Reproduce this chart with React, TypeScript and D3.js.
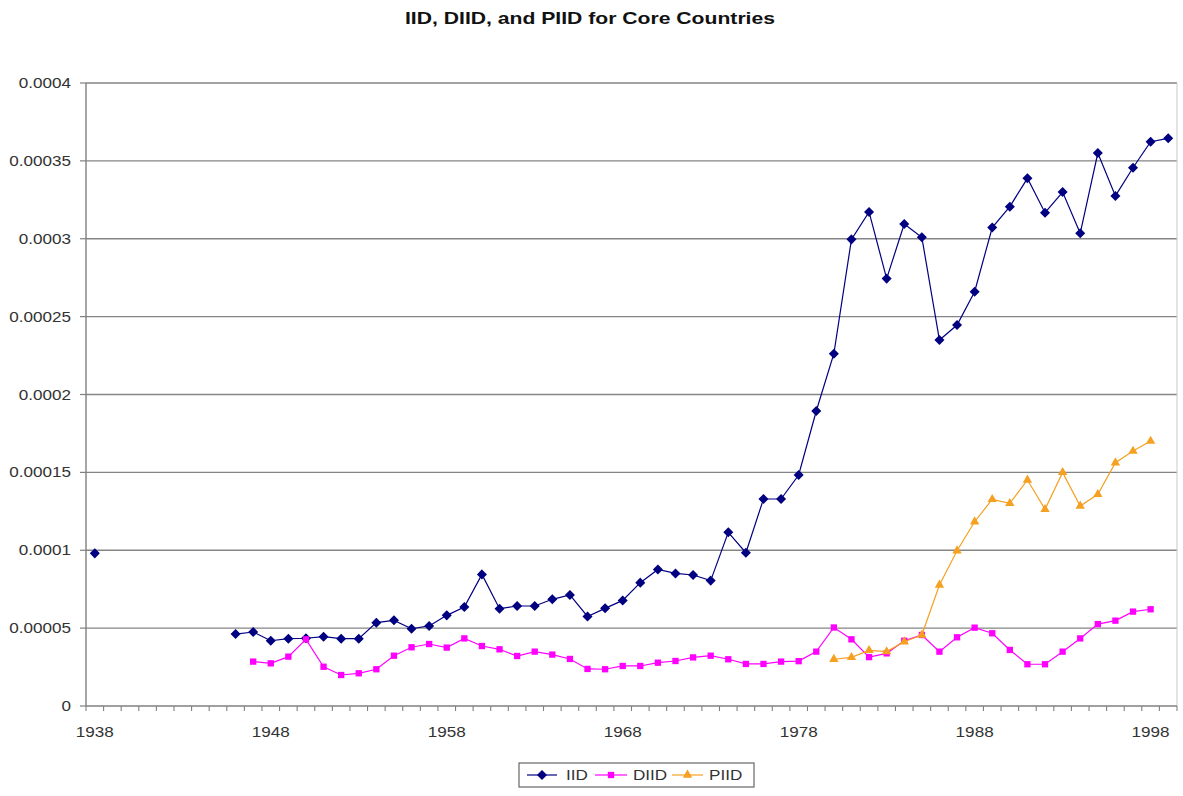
import React from "react";
import * as d3 from "d3";

const years: number[] = d3.range(1938, 2000);
const tickYears: number[] = [1938, 1948, 1958, 1968, 1978, 1988, 1998];
const yTicks: number[] = [0, 0.00005, 0.0001, 0.00015, 0.0002, 0.00025, 0.0003, 0.00035, 0.0004];
const yTickLabels: string[] = ["0", "0.00005", "0.0001", "0.00015", "0.0002", "0.00025", "0.0003", "0.00035", "0.0004"];

// values in units of 1e-5, keyed by year
const iidYears: number[] = [1938, 1946, 1947, 1948, 1949, 1950, 1951, 1952, 1953, 1954, 1955, 1956, 1957, 1958, 1959, 1960, 1961, 1962, 1963, 1964, 1965, 1966, 1967, 1968, 1969, 1970, 1971, 1972, 1973, 1974, 1975, 1976, 1977, 1978, 1979, 1980, 1981, 1982, 1983, 1984, 1985, 1986, 1987, 1988, 1989, 1990, 1991, 1992, 1993, 1994, 1995, 1996, 1997, 1998, 1999];
const iidValues: number[] = [9.8, 4.62, 4.75, 4.19, 4.32, 4.35, 4.45, 4.32, 4.32, 5.35, 5.5, 4.96, 5.14, 5.82, 6.36, 8.45, 6.25, 6.42, 6.42, 6.85, 7.13, 5.75, 6.27, 6.78, 7.92, 8.77, 8.51, 8.41, 8.05, 11.15, 9.84, 13.29, 13.29, 14.83, 18.94, 22.62, 29.96, 31.72, 27.44, 30.95, 30.09, 23.5, 24.46, 26.6, 30.72, 32.06, 33.88, 31.67, 33.0, 30.35, 35.5, 32.75, 34.56, 36.23, 36.45];

const diidYears: number[] = d3.range(1947, 1999);
const diidValues: number[] = [2.85, 2.74, 3.17, 4.28, 2.52, 1.99, 2.1, 2.36, 3.23, 3.77, 3.98, 3.75, 4.34, 3.85, 3.64, 3.21, 3.49, 3.3, 3.02, 2.38, 2.36, 2.57, 2.57, 2.78, 2.89, 3.12, 3.23, 3.0, 2.7, 2.7, 2.85, 2.88, 3.49, 5.04, 4.28, 3.14, 3.38, 4.19, 4.56, 3.49, 4.41, 5.03, 4.67, 3.6, 2.68, 2.68, 3.49, 4.34, 5.26, 5.48, 6.06, 6.21];

const piidYears: number[] = d3.range(1980, 1999);
const piidValues: number[] = [3.0, 3.12, 3.57, 3.49, 4.13, 4.56, 7.77, 9.97, 11.83, 13.27, 13.01, 14.51, 12.63, 15.0, 12.84, 13.59, 15.62, 16.37, 17.01];

const seriesNames: string[] = ["IID", "DIID", "PIID"];
const seriesColors: string[] = ["#000080", "#FF00FF", "#F5A020"];

const FONT = "'Liberation Sans', Arial, sans-serif";

type Pt = { year: number; v: number | null };

function toSeries(ys: number[], vs: number[]): Pt[] {
  const m = new Map<number, number>();
  ys.forEach((y, i) => m.set(y, vs[i] * 1e-5));
  return years.map((y) => ({ year: y, v: m.has(y) ? (m.get(y) as number) : null }));
}

export default function App() {
  const W = 1183;
  const H = 796;
  const left = 86;
  const right = 1177;
  const top = 83;
  const bottom = 706;

  const x = d3.scaleBand<number>().domain(years).range([left, right]).padding(0);
  const y = d3.scaleLinear().domain([0, 0.0004]).range([bottom, top]);
  const cx = (yr: number) => (x(yr) as number) + x.bandwidth() / 2;

  const data: Pt[][] = [toSeries(iidYears, iidValues), toSeries(diidYears, diidValues), toSeries(piidYears, piidValues)];
  const diamond = (d3 as any).symbolDiamond2 || d3.symbolDiamond;
  const symbols = [diamond, d3.symbolSquare, d3.symbolTriangle];
  const sizes = [40, 40, 38];

  const line = d3
    .line<Pt>()
    .defined((d) => d.v !== null)
    .x((d) => cx(d.year))
    .y((d) => y(d.v as number));

  const boundaries = years.map((yr) => x(yr) as number).concat([right]);

  const legendItems = [
    { lineX0: 527, lineX1: 557, textX: 566 },
    { lineX0: 595, lineX1: 627, textX: 633 },
    { lineX0: 672, lineX1: 703, textX: 709 },
  ];

  const stretch = 1.14;

  return (
    <svg
      width={W}
      height={H}
      style={{ position: "absolute", left: 0, top: 0, background: "#fff" }}
      fontFamily={FONT}
    >
      <rect x={0} y={0} width={W} height={H} fill="#fff" />
      <text x={590} y={24} textAnchor="middle" fontWeight="bold" fontSize={17} fill="#111" textLength={370} lengthAdjust="spacingAndGlyphs">
        IID, DIID, and PIID for Core Countries
      </text>

      {/* gridlines */}
      {yTicks.map((t) =>
        t === 0 ? null : (
          <line key={"g" + t} x1={left} x2={right} y1={y(t)} y2={y(t)} stroke="#858585" strokeWidth={1.4} />
        )
      )}
      {/* plot border right */}
      <line x1={right} x2={right} y1={top} y2={bottom} stroke="#c8c8c8" strokeWidth={1} />

      {/* y axis */}
      <line x1={left} x2={left} y1={top} y2={bottom} stroke="#808080" strokeWidth={1.4} />
      {yTicks.map((t, i) => (
        <g key={"yt" + t}>
          <line x1={left - 6} x2={left} y1={y(t)} y2={y(t)} stroke="#808080" strokeWidth={1.2} />
          <text
            transform={`translate(${left - 15},${y(t) + 5}) scale(${stretch},1)`}
            textAnchor="end"
            fontSize={15}
            fill="#333"
          >
            {yTickLabels[i]}
          </text>
        </g>
      ))}

      {/* x axis */}
      <line x1={left} x2={right} y1={bottom} y2={bottom} stroke="#808080" strokeWidth={1.4} />
      {boundaries.map((b, i) => (
        <line key={"xt" + i} x1={b} x2={b} y1={bottom} y2={bottom + 5} stroke="#808080" strokeWidth={1.1} />
      ))}
      {tickYears.map((yr) => (
        <text
          key={"xl" + yr}
          transform={`translate(${cx(yr)},${bottom + 31}) scale(${stretch},1)`}
          textAnchor="middle"
          fontSize={15}
          fill="#333"
        >
          {yr}
        </text>
      ))}

      {/* series */}
      {data.map((s, si) => (
        <g key={"s" + si}>
          <path d={line(s) || ""} fill="none" stroke={seriesColors[si]} strokeWidth={1.2} />
          {s
            .filter((d) => d.v !== null)
            .map((d) => (
              <path
                key={d.year}
                d={d3.symbol().type(symbols[si]).size(sizes[si])() || ""}
                transform={`translate(${cx(d.year)},${y(d.v as number)})`}
                fill={seriesColors[si]}
                stroke={si === 0 ? seriesColors[si] : "none"}
                strokeWidth={si === 0 ? 1.5 : 0}
              />
            ))}
        </g>
      ))}

      {/* legend */}
      <rect x={519} y={763} width={235} height={24} fill="#fff" stroke="#666" strokeWidth={1.2} />
      {legendItems.map((it, i) => (
        <g key={"lg" + i}>
          <line x1={it.lineX0} x2={it.lineX1} y1={775} y2={775} stroke={seriesColors[i]} strokeWidth={1.2} />
          <path
            d={d3.symbol().type(symbols[i]).size(sizes[i])() || ""}
            transform={`translate(${(it.lineX0 + it.lineX1) / 2},775)`}
            fill={seriesColors[i]}
            stroke={i === 0 ? seriesColors[i] : "none"}
            strokeWidth={i === 0 ? 1.5 : 0}
          />
          <text transform={`translate(${it.textX},780) scale(${stretch},1)`} fontSize={15} fill="#333">
            {seriesNames[i]}
          </text>
        </g>
      ))}
    </svg>
  );
}
